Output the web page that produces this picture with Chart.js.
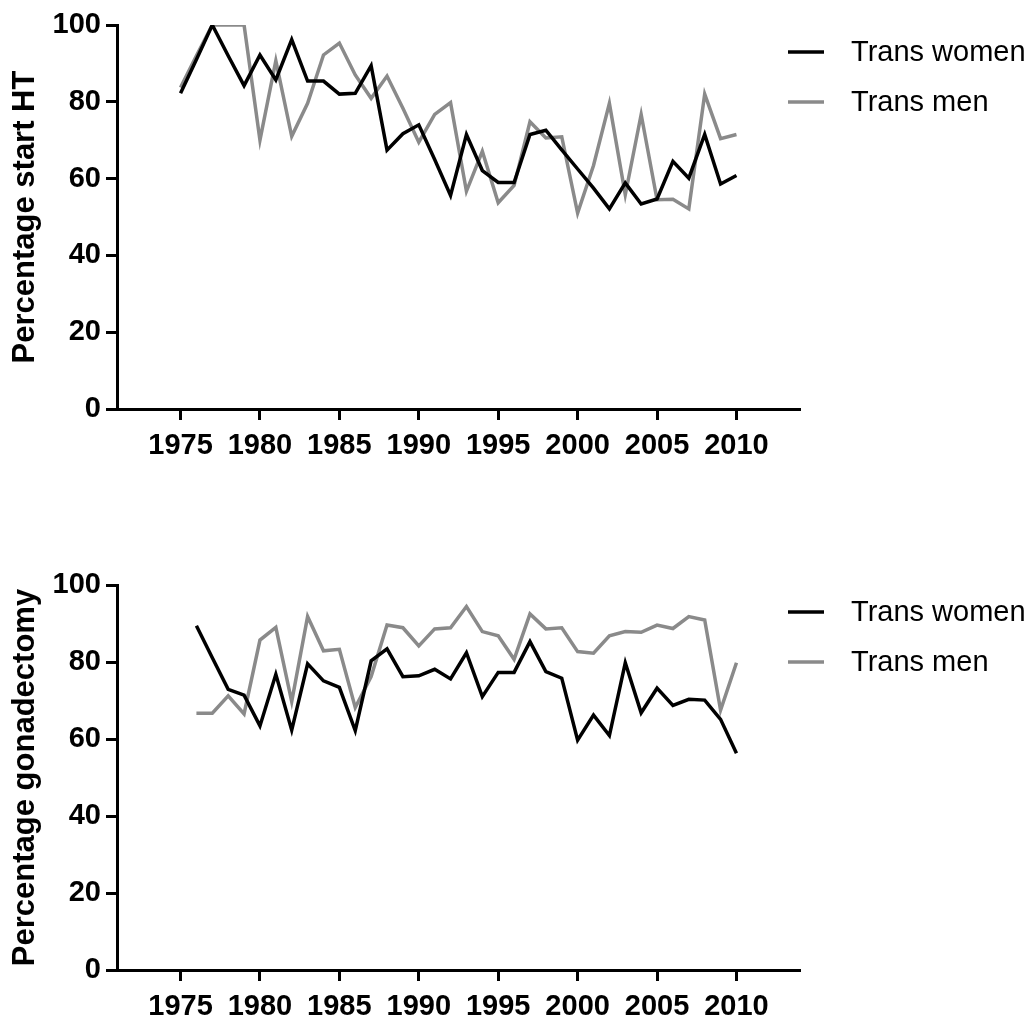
<!doctype html>
<html lang="en">
  <head>
    <meta charset="utf-8">
    <title>Hormone treatment and gonadectomy by year</title>
    <style>
      * { margin: 0; padding: 0; }
      body { width: 1036px; height: 1017px; background: #fff; position: relative; overflow: hidden; }
      .box { position: absolute; left: 0; width: 1036px; }
      #topBox { top: 0; height: 480px; }
      #bottomBox { top: 500px; height: 517px; }
    </style>
  </head>
  <body>
    <div class="box" id="topBox"><canvas id="chartHT" width="1036" height="480"></canvas></div>
    <div class="box" id="bottomBox"><canvas id="chartGon" width="1036" height="517"></canvas></div>

    <script src="https://cdn.jsdelivr.net/npm/chart.js/dist/chart.umd.min.js"></script>
    <script>
    // data
    const seriesNames = ['Trans women', 'Trans men'];
    const xTicks = [1975, 1980, 1985, 1990, 1995, 2000, 2005, 2010];
    const yTicks = [0, 20, 40, 60, 80, 100];

    // top panel: percentage start HT, 1975-2010
    const yearsHT = [1975, 1976, 1977, 1978, 1979, 1980, 1981, 1982, 1983, 1984,
                     1985, 1986, 1987, 1988, 1989, 1990, 1991, 1992, 1993, 1994,
                     1995, 1996, 1997, 1998, 1999, 2000, 2001, 2002, 2003, 2004,
                     2005, 2006, 2007, 2008, 2009, 2010];
    const htWomen = [82.2, 91, 100, 92, 84.2, 92.2, 85.7, 96.2, 85.4, 85.4,
                     82, 82.2, 89.4, 67.4, 71.7, 74, 65, 55.6, 71.5, 62.1,
                     59, 59, 71.5, 72.6, 67.5, 62.5, 57.5, 52.1, 58.9, 53.4,
                     54.7, 64.5, 60.1, 71.5, 58.6, 60.8];
    const htMen = [83.7, 92, 100, 100, 100, 70, 90.7, 71, 79.6, 92.2,
                   95.3, 87, 80.9, 86.7, 78.3, 69.5, 76.7, 79.8, 56.7, 67.1,
                   53.7, 58.2, 74.8, 70.6, 70.9, 51, 63.4, 79.6, 55.8, 76.7,
                   54.5, 54.6, 52.1, 82, 70.4, 71.5];

    // bottom panel: percentage gonadectomy, 1976-2010
    const yearsGon = [1976, 1977, 1978, 1979, 1980, 1981, 1982, 1983, 1984, 1985,
                      1986, 1987, 1988, 1989, 1990, 1991, 1992, 1993, 1994, 1995,
                      1996, 1997, 1998, 1999, 2000, 2001, 2002, 2003, 2004, 2005,
                      2006, 2007, 2008, 2009, 2010];
    const gonWomen = [89.4, 81.1, 72.9, 71.4, 63.4, 76.8, 62.3, 79.5, 75.1, 73.4,
                      62.2, 80.3, 83.4, 76.2, 76.4, 78.1, 75.6, 82.4, 71, 77.3,
                      77.3, 85.3, 77.5, 75.8, 59.7, 66.2, 60.9, 79.8, 66.8, 73.2,
                      68.7, 70.3, 70.1, 65.1, 56.3];
    const gonMen = [66.7, 66.7, 71.2, 66.5, 85.7, 89, 69.7, 91.8, 82.9, 83.3,
                    68.2, 76.2, 89.6, 88.9, 84.2, 88.6, 88.9, 94.4, 87.9, 86.8,
                    80.7, 92.5, 88.6, 88.9, 82.7, 82.3, 86.8, 87.9, 87.7, 89.6,
                    88.7, 91.8, 90.9, 67.5, 79.8];

    const colors = ['#000000', '#8a8a8a'];
    const FONT = "'Liberation Sans', Arial, sans-serif";

    // legend drawn to the right of the plot, short line + label
    const sideLegend = {
      id: 'sideLegend',
      afterDraw(chart) {
        const { ctx, chartArea: { top, right } } = chart;
        ctx.save();
        ctx.font = '29px ' + FONT;
        ctx.textBaseline = 'middle';
        ctx.textAlign = 'left';
        chart.data.datasets.forEach((ds, i) => {
          const yy = top + 27 + i * 50;
          ctx.beginPath();
          ctx.lineWidth = 3.5;
          ctx.strokeStyle = ds.borderColor;
          ctx.moveTo(right - 12, yy);
          ctx.lineTo(right + 24, yy);
          ctx.stroke();
          ctx.fillStyle = '#000';
          ctx.fillText(ds.label, right + 51, yy + 1);
        });
        ctx.restore();
      }
    };

    function makeChart(canvasId, years, women, men, title, padTop, xHeight) {
      const series = [women, men];
      const data = {
        datasets: series.map((vals, i) => ({
          label: seriesNames[i],
          data: years.map((yr, j) => ({ x: yr, y: vals[j] })),
          borderColor: colors[i],
          backgroundColor: colors[i],
          borderWidth: 3.5,
          pointRadius: 0,
          tension: 0,
        }))
      };
      return new Chart(document.getElementById(canvasId), {
        type: 'line',
        data,
        options: {
          responsive: false,
          animation: false,
          layout: { padding: { top: padTop, left: 0, right: 236, bottom: 0 } },
          plugins: { legend: { display: false }, tooltip: { enabled: false } },
          scales: {
            x: {
              type: 'linear',
              min: 1971,
              max: 2014,
              afterBuildTicks: (s) => { s.ticks = xTicks.map(v => ({ value: v })); },
              afterFit: (s) => { s.height = xHeight; },
              ticks: {
                color: '#000',
                font: { family: FONT, size: 29, weight: 'bold' },
                padding: 9,
                maxRotation: 0,
                autoSkip: false,
                callback: (v) => String(v),
              },
              grid: { drawOnChartArea: false, drawTicks: true, tickLength: 11, tickWidth: 3, tickColor: '#000' },
              border: { display: true, color: '#000', width: 3 },
            },
            y: {
              min: 0,
              max: 100,
              afterBuildTicks: (s) => { s.ticks = yTicks.map(v => ({ value: v })); },
              afterFit: (s) => { s.width = 117; },
              ticks: {
                color: '#000',
                font: { family: FONT, size: 29, weight: 'bold' },
                padding: 5,
              },
              grid: { drawOnChartArea: false, drawTicks: true, tickLength: 11, tickWidth: 3, tickColor: '#000' },
              border: { display: true, color: '#000', width: 3 },
              title: {
                display: true,
                text: title,
                color: '#000',
                font: { family: FONT, size: 31, weight: 'bold' },
                padding: { top: 7, bottom: 0 },
              },
            }
          }
        },
        plugins: [sideLegend]
      });
    }

    makeChart('chartHT', yearsHT, htWomen, htMen, 'Percentage start HT', 25, 71);
    makeChart('chartGon', yearsGon, gonWomen, gonMen, 'Percentage gonadectomy', 85, 47);
    </script>
  </body>
</html>
